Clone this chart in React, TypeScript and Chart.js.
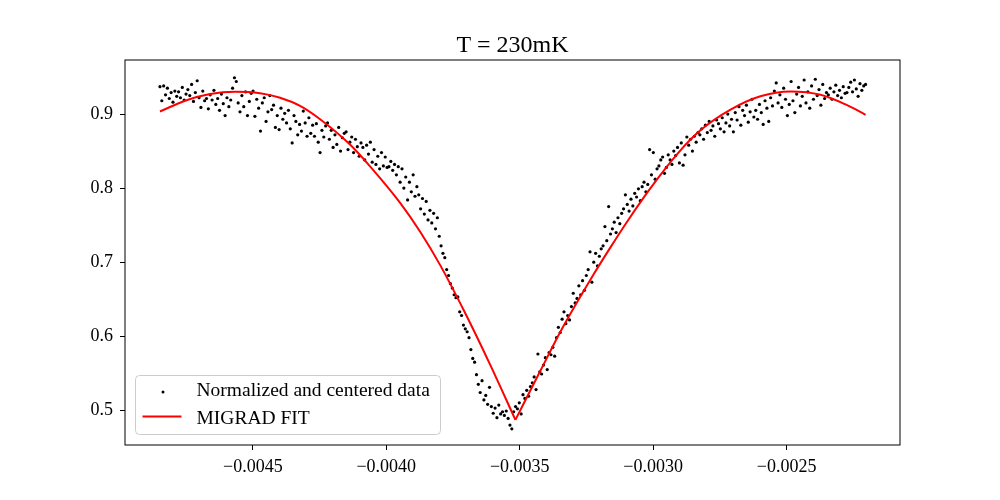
import { useEffect, useRef } from "react"
import { Chart, registerables } from "chart.js"

Chart.register(...registerables)

const chartTitle = "T = 230mK"
const dataLabel = "Normalized and centered data"
const fitLabel = "MIGRAD FIT"

// detuning of the first and last measured sample, samples are evenly spaced
const sampleStart = -0.004848
const sampleEnd = -0.002204

// normalized transmission left to right
const measured = [
  0.937, 0.918, 0.938, 0.926, 0.935, 0.921, 0.929, 0.916, 0.931, 0.924,
  0.930, 0.922, 0.936, 0.919, 0.927, 0.933, 0.925, 0.940, 0.917, 0.929,
  0.945, 0.922, 0.909, 0.931, 0.918, 0.921, 0.907, 0.926, 0.919, 0.932,
  0.913, 0.921, 0.905, 0.927, 0.914, 0.898, 0.922, 0.910, 0.919, 0.935,
  0.949, 0.944, 0.915, 0.903, 0.925, 0.910, 0.930, 0.898, 0.917, 0.928,
  0.931, 0.897, 0.920, 0.908, 0.877, 0.915, 0.922, 0.890, 0.903, 0.925,
  0.906, 0.912, 0.882, 0.898, 0.879, 0.908, 0.893, 0.901, 0.888, 0.905,
  0.880, 0.861, 0.898, 0.890, 0.872, 0.886, 0.877, 0.904, 0.888, 0.870,
  0.895, 0.874, 0.885, 0.870, 0.887, 0.862, 0.848, 0.878, 0.869, 0.884,
  0.888, 0.866, 0.878, 0.855, 0.872, 0.859, 0.882, 0.850, 0.868, 0.874,
  0.876, 0.852, 0.862, 0.869, 0.848, 0.866, 0.856, 0.843, 0.861, 0.855,
  0.838, 0.858, 0.846, 0.862, 0.835, 0.852, 0.832, 0.843, 0.826, 0.848,
  0.830, 0.842, 0.828, 0.829, 0.836, 0.824, 0.832, 0.818, 0.829, 0.808,
  0.826, 0.800, 0.815, 0.784, 0.808, 0.795, 0.818, 0.789, 0.802, 0.791,
  0.772, 0.786, 0.765, 0.782, 0.757, 0.770, 0.753, 0.766, 0.745, 0.760,
  0.735, 0.722, 0.712, 0.706, 0.690, 0.682, 0.671, 0.665, 0.656, 0.652,
  0.653, 0.633, 0.628, 0.615, 0.610, 0.606, 0.598, 0.582, 0.570, 0.565,
  0.548, 0.535, 0.524, 0.540, 0.514, 0.520, 0.508, 0.531, 0.505, 0.496,
  0.503, 0.490, 0.507, 0.495, 0.498, 0.493, 0.499, 0.489, 0.480, 0.475,
  0.498, 0.505, 0.502, 0.510, 0.495, 0.521, 0.516, 0.527, 0.519, 0.532,
  0.537, 0.545, 0.528, 0.576, 0.552, 0.549, 0.561, 0.571, 0.555, 0.578,
  0.575, 0.585, 0.573, 0.598, 0.612, 0.605, 0.623, 0.633, 0.617, 0.628,
  0.622, 0.640, 0.658, 0.645, 0.651, 0.668, 0.656, 0.675, 0.662, 0.682,
  0.690, 0.714, 0.673, 0.700, 0.712, 0.695, 0.708, 0.718, 0.722, 0.748,
  0.729, 0.775, 0.738, 0.745, 0.754, 0.740, 0.760, 0.752, 0.766, 0.772,
  0.791, 0.778, 0.769, 0.785, 0.776, 0.793, 0.788, 0.799, 0.783, 0.802,
  0.808, 0.795, 0.805, 0.852, 0.818, 0.848, 0.812, 0.826, 0.830, 0.838,
  0.842, 0.820, 0.828, 0.845, 0.838, 0.832, 0.850, 0.844, 0.855, 0.834,
  0.861, 0.831, 0.845, 0.869, 0.858, 0.866, 0.850, 0.870, 0.862, 0.875,
  0.872, 0.880, 0.866, 0.885, 0.875, 0.890, 0.878, 0.884, 0.870, 0.892,
  0.887, 0.880, 0.895, 0.876, 0.888, 0.900, 0.884, 0.893, 0.876, 0.902,
  0.892, 0.910, 0.885, 0.905, 0.898, 0.912, 0.889, 0.903, 0.920, 0.896,
  0.905, 0.893, 0.913, 0.902, 0.886, 0.918, 0.908, 0.890, 0.922, 0.911,
  0.931, 0.942, 0.915, 0.926, 0.909, 0.935, 0.920, 0.898, 0.913, 0.944,
  0.918, 0.902, 0.927, 0.936, 0.911, 0.924, 0.946, 0.915, 0.930, 0.908,
  0.938, 0.920, 0.947, 0.925, 0.933, 0.912, 0.940, 0.921, 0.929, 0.926,
  0.935, 0.920, 0.930, 0.939, 0.925, 0.932, 0.922, 0.937, 0.928, 0.929,
  0.936, 0.943, 0.930, 0.946, 0.934, 0.924, 0.941, 0.932, 0.938, 0.940,
]

// fitted curve
const fitX = [
  -0.004848, -0.004754, -0.00466, -0.004566, -0.004473, -0.004398, -0.004323,
  -0.004248, -0.004135, -0.00406, -0.003948, -0.003873, -0.003798, -0.003711,
  -0.00361, -0.003516, -0.003423, -0.00334, -0.003224, -0.00316, -0.003097,
  -0.00301, -0.002905, -0.002823, -0.00271, -0.002598, -0.002485, -0.002373,
  -0.002279, -0.002204,
]
const fitY = [
  0.9035, 0.918, 0.927, 0.930, 0.928, 0.922, 0.911,
  0.893, 0.8585, 0.829, 0.780, 0.741, 0.696, 0.636,
  0.561, 0.487, 0.553, 0.611, 0.683, 0.720, 0.755,
  0.800, 0.848, 0.878, 0.906, 0.924, 0.9305, 0.926,
  0.913, 0.899,
]

const xTicks = [-0.0045, -0.004, -0.0035, -0.003, -0.0025]
const yTicks = [0.5, 0.6, 0.7, 0.8, 0.9]

const serif = "'Liberation Serif', 'DejaVu Serif', serif"

const framePlugin = {
  id: "frame",
  afterDraw(chart: Chart) {
    const { ctx, chartArea: ca } = chart
    ctx.save()
    // spines
    ctx.strokeStyle = "#000"
    ctx.lineWidth = 1
    ctx.strokeRect(ca.left, ca.top, ca.right - ca.left, ca.bottom - ca.top)

    // title
    ctx.fillStyle = "#000"
    ctx.font = `24px ${serif}`
    ctx.textAlign = "center"
    ctx.textBaseline = "alphabetic"
    ctx.fillText(chartTitle, (ca.left + ca.right) / 2, ca.top - 8)

    // legend
    const bx = ca.left + 10.5
    const by = ca.bottom - 69.5
    const bw = 305
    const bh = 59
    ctx.beginPath()
    ctx.roundRect(bx, by, bw, bh, 4)
    ctx.fillStyle = "rgba(255,255,255,0.8)"
    ctx.fill()
    ctx.strokeStyle = "#cccccc"
    ctx.stroke()

    ctx.fillStyle = "#000"
    ctx.beginPath()
    ctx.arc(bx + 27.5, by + 16.5, 1.5, 0, Math.PI * 2)
    ctx.fill()

    ctx.strokeStyle = "rgb(255,0,0)"
    ctx.lineWidth = 2
    ctx.beginPath()
    ctx.moveTo(bx + 7, by + 41)
    ctx.lineTo(bx + 46, by + 41)
    ctx.stroke()

    ctx.font = `19.5px ${serif}`
    ctx.textAlign = "left"
    ctx.textBaseline = "alphabetic"
    ctx.fillText(dataLabel, bx + 61, by + 20)
    ctx.fillText(fitLabel, bx + 61, by + 48)
    ctx.restore()
  },
}

export default function App() {
  const chartRef = useRef<HTMLCanvasElement>(null)
  const chartInstance = useRef<Chart | null>(null)

  useEffect(() => {
    document.body.style.margin = "0"
    if (!chartRef.current) return
    const ctx = chartRef.current.getContext("2d")
    if (!ctx) return

    if (chartInstance.current) {
      chartInstance.current.destroy()
    }

    const step = (sampleEnd - sampleStart) / (measured.length - 1)
    const points = measured.map((y, i) => ({ x: sampleStart + i * step, y }))
    const fit = fitX.map((x, i) => ({ x, y: fitY[i] }))
    // split the fit at its minimum so the cusp stays sharp
    const minIdx = fitY.indexOf(Math.min(...fitY))
    const fitStyle = {
      showLine: true,
      borderColor: "rgb(255,0,0)",
      borderWidth: 2,
      pointRadius: 0,
      cubicInterpolationMode: "monotone" as const,
      order: 0,
    }

    chartInstance.current = new Chart(ctx, {
      type: "scatter",
      data: {
        datasets: [
          { label: fitLabel, data: fit.slice(0, minIdx + 1), ...fitStyle },
          { label: fitLabel, data: fit.slice(minIdx), ...fitStyle },
          {
            label: dataLabel,
            data: points,
            pointRadius: 1.6,
            pointBackgroundColor: "#000",
            pointBorderWidth: 0,
            order: 1,
          },
        ],
      },
      options: {
        animation: false,
        responsive: true,
        maintainAspectRatio: false,
        layout: { padding: { top: 60, right: 100, left: 0, bottom: 0 } },
        plugins: {
          legend: { display: false },
          title: { display: false },
          tooltip: { enabled: false },
        },
        scales: {
          x: {
            type: "linear",
            min: -0.004979,
            max: -0.002075,
            afterBuildTicks: (scale: any) => {
              scale.ticks = xTicks.map((value) => ({ value }))
            },
            afterFit: (scale: any) => {
              scale.height = 55
            },
            border: { display: false },
            grid: {
              drawOnChartArea: false,
              drawTicks: true,
              tickLength: 5,
              tickColor: "#000",
            },
            ticks: {
              color: "#000",
              padding: 6,
              maxRotation: 0,
              font: { family: serif, size: 18 },
              callback: (v: any) => Number(v).toFixed(4).replace("-", "\u2212"),
            },
          },
          y: {
            type: "linear",
            min: 0.4531,
            max: 0.973,
            afterBuildTicks: (scale: any) => {
              scale.ticks = yTicks.map((value) => ({ value }))
            },
            afterFit: (scale: any) => {
              scale.width = 125
            },
            border: { display: false },
            grid: {
              drawOnChartArea: false,
              drawTicks: true,
              tickLength: 5,
              tickColor: "#000",
            },
            ticks: {
              color: "#000",
              padding: 7,
              font: { family: serif, size: 18 },
              callback: (v: any) => Number(v).toFixed(1),
            },
          },
        },
      },
      plugins: [framePlugin],
    })

    return () => {
      if (chartInstance.current) {
        chartInstance.current.destroy()
        chartInstance.current = null
      }
    }
  }, [])

  return (
    <div style={{ width: 1000, height: 500, position: "relative" }}>
      <canvas ref={chartRef} />
    </div>
  )
}
